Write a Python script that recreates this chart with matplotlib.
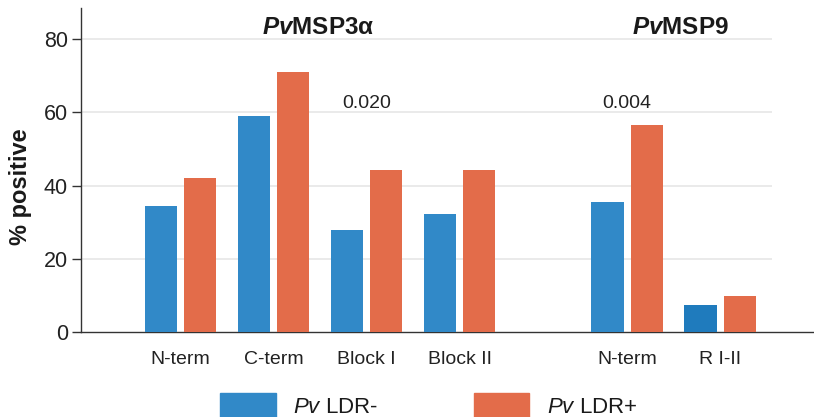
import matplotlib
matplotlib.use("Agg")
import matplotlib.pyplot as plt
import matplotlib.patches as mpatches
import numpy as np

plt.rcParams["font.family"] = ["Liberation Sans", "DejaVu Sans"]
plt.rcParams["mathtext.fontset"] = "custom"
plt.rcParams["mathtext.it"] = "Liberation Sans:italic"
plt.rcParams["mathtext.bf"] = "Liberation Sans:bold"
plt.rcParams["mathtext.bfit"] = "Liberation Sans:bold:italic"
plt.rcParams["mathtext.rm"] = "Liberation Sans"

# ─── data ────────────────────────────────────────────────────────────────────
categories = ["N-term", "C-term", "Block I", "Block II", "N-term", "R I-II"]
positions = [0, 1, 2, 3, 4.8, 5.8]
ldr_neg = [34.3, 59.1, 27.9, 32.2, 35.4, 7.4]
ldr_pos = [42.2, 71.1, 44.3, 44.3, 56.6, 9.9]
pvalues = ["", "", "0.020", "", "0.004", ""]
groups = [r"$\mathbfit{Pv}$MSP3α", r"$\mathbfit{Pv}$MSP9"]
group_centers = [1.48, 5.37]
yticks = [0, 20, 40, 60, 80]

BLUE = "#3189c8"
BLUE_DARK = "#1f7bbd"
ORANGE = "#e36c4a"

fig = plt.figure(figsize=(8.14, 4.17), dpi=100)
ax = fig.add_axes([81 / 814, 1 - 332 / 417, 733 / 814, 324 / 417])

x = np.array(positions)
w = 0.345
off = 0.21
blue_cols = [BLUE] * 5 + [BLUE_DARK]
ax.bar(x - off, ldr_neg, width=w, color=blue_cols, zorder=3)
ax.bar(x + off, ldr_pos, width=w, color=ORANGE, zorder=3)

# light horizontal grid, stops short of the right edge
ax.hlines(yticks[1:], -1.07, 6.36, color="#e8e8e8", linewidth=1.3, zorder=1)

for xp, p in zip(positions, pvalues):
    if p:
        ax.text(xp, 62.5, p, ha="center", va="center", fontsize=14, color="#222222")

for gx, g in zip(group_centers, groups):
    ax.text(gx, 83.3, g, ha="center", va="center", fontsize=17.5,
            fontweight="bold", color="#1a1a1a")

ax.set_xlim(-1.07, 6.81)
ax.set_ylim(0, 88.5)
ax.set_yticks(yticks)
ax.set_xticks(positions)
ax.set_xticklabels(categories, fontsize=14, color="#222222")
ax.tick_params(axis="x", length=0, pad=13.5)
ax.tick_params(axis="y", length=6.5, width=1, color="#333333", labelsize=15.5,
               labelcolor="#222222", pad=3)

for s in ["top", "right"]:
    ax.spines[s].set_visible(False)
ax.spines["left"].set_color("#333333")
ax.spines["bottom"].set_color("#333333")
ax.spines["left"].set_linewidth(1)
ax.spines["bottom"].set_linewidth(1)

ax.set_ylabel("% positive", fontsize=17, fontweight="bold", color="#1a1a1a")
ax.yaxis.set_label_coords(-0.067, 0.45)

handles = [
    mpatches.Patch(color=BLUE, label=r"$\mathit{Pv}$ LDR-"),
    mpatches.Patch(color=ORANGE, label=r"$\mathit{Pv}$ LDR+"),
]
fig.legend(handles=handles, loc="upper left", bbox_to_anchor=(220 / 814, 1 - 393 / 417),
           ncol=2, frameon=False, fontsize=16, handlelength=2.5, handleheight=1.3,
           handletextpad=0.8, columnspacing=4.3, borderpad=0, borderaxespad=0,
           labelcolor="#1a1a1a")

fig.savefig("out.png", dpi=100)
